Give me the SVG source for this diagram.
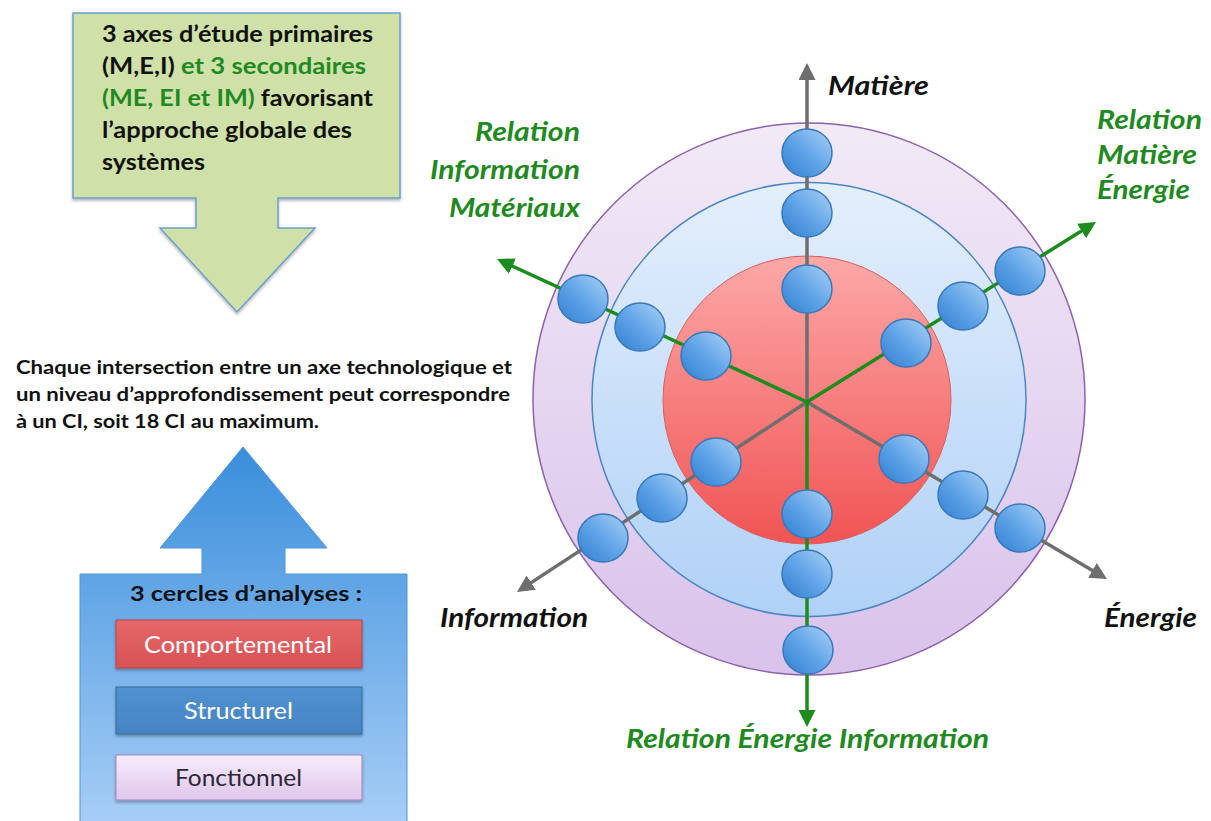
<svg xmlns="http://www.w3.org/2000/svg" width="1211" height="821" viewBox="0 0 1211 821">
<defs>
  <style>
    .t { font-family: Lato, "Liberation Sans", "DejaVu Sans", sans-serif; }
    .b { font-weight: bold; }
    .bi { font-weight: bold; font-style: italic; }
    .blk { fill: #111111; }
    .grn { fill: #1f8a1f; }
    .wht { fill: #ffffff; }
    .gray { stroke: #6e6e6e; stroke-width: 3.5; fill: none; }
    .green { stroke: #1c8c1c; stroke-width: 3.5; fill: none; }
    .node { fill: url(#gNode); stroke: #3a78b8; stroke-width: 1.5; }
  </style>
  <linearGradient id="gNode" x1="0" y1="1" x2="1" y2="0">
    <stop offset="0" stop-color="#2f7ed0"/>
    <stop offset="0.5" stop-color="#62a5e8"/>
    <stop offset="1" stop-color="#acd2f6"/>
  </linearGradient>
  <linearGradient id="gPurple" x1="0" y1="0" x2="0" y2="1">
    <stop offset="0" stop-color="#f2eaf7"/>
    <stop offset="1" stop-color="#d9c2eb"/>
  </linearGradient>
  <linearGradient id="gBlueRing" x1="0" y1="0" x2="0" y2="1">
    <stop offset="0" stop-color="#e4effc"/>
    <stop offset="1" stop-color="#b0d1f7"/>
  </linearGradient>
  <linearGradient id="gRed" x1="0" y1="0" x2="0" y2="1">
    <stop offset="0" stop-color="#fda8a8"/>
    <stop offset="1" stop-color="#f15454"/>
  </linearGradient>
  <linearGradient id="gBlueArrow" gradientUnits="userSpaceOnUse" x1="0" y1="447" x2="0" y2="821">
    <stop offset="0" stop-color="#3a8edb"/>
    <stop offset="1" stop-color="#a6cdf6"/>
  </linearGradient>
  <linearGradient id="gComp" x1="0" y1="0" x2="0" y2="1">
    <stop offset="0" stop-color="#e6686a"/>
    <stop offset="1" stop-color="#d75254"/>
  </linearGradient>
  <linearGradient id="gStruct" x1="0" y1="0" x2="0" y2="1">
    <stop offset="0" stop-color="#5192d0"/>
    <stop offset="1" stop-color="#4783c2"/>
  </linearGradient>
  <linearGradient id="gFonc" x1="0" y1="0" x2="0" y2="1">
    <stop offset="0" stop-color="#f6ecfa"/>
    <stop offset="1" stop-color="#dfc6eb"/>
  </linearGradient>
  <filter id="shadow" x="-10%" y="-10%" width="120%" height="120%">
    <feDropShadow dx="0" dy="2" stdDeviation="1.5" flood-color="#000" flood-opacity="0.3"/>
  </filter>
  <marker id="arrGray" markerUnits="userSpaceOnUse" markerWidth="17" markerHeight="17" refX="5" refY="8.5" orient="auto">
    <path d="M0,0 L17,8.5 L0,17 Z" fill="#6e6e6e"/>
  </marker>
  <marker id="arrGreen" markerUnits="userSpaceOnUse" markerWidth="17" markerHeight="17" refX="5" refY="8.5" orient="auto">
    <path d="M0,0 L17,8.5 L0,17 Z" fill="#1c8c1c"/>
  </marker>
</defs>

<rect width="1211" height="821" fill="#ffffff"/>

<!-- Left: green arrow -->
<g id="green-arrow">
  <path d="M73,13 H400 V198 H278 V228 H315 L237,312 L160,228 H196 V198 H73 Z" fill="#cfe1a8" stroke="#6b9fcf" stroke-width="1.5" filter="url(#shadow)"/>
  <text class="t b blk" font-size="22" x="102" y="42" textLength="271" lengthAdjust="spacingAndGlyphs">3 axes d’étude primaires</text>
  <text class="t b blk" font-size="22" x="102" y="74" textLength="264" lengthAdjust="spacingAndGlyphs">(M,E,I) <tspan class="grn">et 3 secondaires</tspan></text>
  <text class="t b grn" font-size="22" x="102" y="106" textLength="271" lengthAdjust="spacingAndGlyphs">(ME, EI et IM)<tspan class="blk"> favorisant</tspan></text>
  <text class="t b blk" font-size="22" x="102" y="138" textLength="250" lengthAdjust="spacingAndGlyphs">l’approche globale des</text>
  <text class="t b blk" font-size="22" x="102" y="170" textLength="103" lengthAdjust="spacingAndGlyphs">systèmes</text>
</g>

<!-- Middle text -->
<g id="intersection-text">
  <text class="t b blk" font-size="19.5" x="16" y="374" textLength="496" lengthAdjust="spacingAndGlyphs">Chaque intersection entre un axe technologique et</text>
  <text class="t b blk" font-size="19.5" x="16" y="401" textLength="494" lengthAdjust="spacingAndGlyphs">un niveau d’approfondissement peut correspondre</text>
  <text class="t b blk" font-size="19.5" x="16" y="428" textLength="303" lengthAdjust="spacingAndGlyphs">à un CI, soit 18 CI au maximum.</text>
</g>

<!-- Left: blue arrow -->
<g id="blue-arrow">
  <path d="M243,447 L327,548 H285 V574 H407 V830 H80 V574 H202 V548 H160 Z" fill="url(#gBlueArrow)" stroke="#4f95d8" stroke-width="1"/>
  <text class="t b blk" font-size="21" x="130" y="601" textLength="232" lengthAdjust="spacingAndGlyphs">3 cercles d’analyses :</text>
</g>
<g id="box-comportemental">
  <rect x="116" y="620" width="246" height="48" fill="url(#gComp)" stroke="#b94446" stroke-width="1" filter="url(#shadow)"/>
  <text class="t wht" font-size="23" x="144" y="653" textLength="188" lengthAdjust="spacingAndGlyphs">Comportemental</text>
</g>
<g id="box-structurel">
  <rect x="116" y="687" width="246" height="47" fill="url(#gStruct)" stroke="#36689c" stroke-width="1" filter="url(#shadow)"/>
  <text class="t wht" font-size="23" x="184" y="719" textLength="109" lengthAdjust="spacingAndGlyphs">Structurel</text>
</g>
<g id="box-fonctionnel">
  <rect x="116" y="755" width="246" height="45" fill="url(#gFonc)" stroke="#a283c0" stroke-width="1" filter="url(#shadow)"/>
  <text class="t" font-size="23" fill="#2b2838" x="175" y="786" textLength="127" lengthAdjust="spacingAndGlyphs">Fonctionnel</text>
</g>

<!-- Rings -->
<g id="ring-fonctionnel">
  <circle cx="809" cy="399" r="276" fill="url(#gPurple)" stroke="#8b62ab" stroke-width="1.5"/>
</g>
<g id="ring-structurel">
  <circle cx="809" cy="399.5" r="217" fill="url(#gBlueRing)" stroke="#4a86c3" stroke-width="1.5"/>
</g>
<g id="ring-comportemental">
  <circle cx="807" cy="400" r="144" fill="url(#gRed)" stroke="#d9605f" stroke-width="1"/>
</g>

<!-- Connectors (axes) -->
<g id="connectors">
  <line class="gray" x1="807" y1="402" x2="807" y2="75" marker-end="url(#arrGray)"/>
  <line class="gray" x1="807" y1="402" x2="527" y2="585.4" marker-end="url(#arrGray)"/>
  <line class="gray" x1="807" y1="402" x2="1096.7" y2="572.9" marker-end="url(#arrGray)"/>
  <line class="green" x1="807" y1="402" x2="1085.8" y2="228.3" marker-end="url(#arrGreen)"/>
  <line class="green" x1="807" y1="402" x2="507.9" y2="264" marker-end="url(#arrGreen)"/>
  <line class="green" x1="807" y1="402" x2="807" y2="715" marker-end="url(#arrGreen)"/>
</g>

<!-- Intersection nodes -->
<g id="nodes-matiere">
  <ellipse class="node" cx="807" cy="153" rx="25" ry="24"/>
  <ellipse class="node" cx="807" cy="213" rx="25" ry="24"/>
  <ellipse class="node" cx="807" cy="289" rx="25" ry="24"/>
</g>
<g id="nodes-matiere-energie">
  <ellipse class="node" cx="1020" cy="271" rx="25" ry="24"/>
  <ellipse class="node" cx="963" cy="306" rx="25" ry="24"/>
  <ellipse class="node" cx="906" cy="343" rx="25" ry="24"/>
</g>
<g id="nodes-information-materiaux">
  <ellipse class="node" cx="583" cy="299" rx="25" ry="24"/>
  <ellipse class="node" cx="640" cy="327" rx="25" ry="24"/>
  <ellipse class="node" cx="706" cy="356" rx="25" ry="24"/>
</g>
<g id="nodes-information">
  <ellipse class="node" cx="716" cy="462" rx="25" ry="24"/>
  <ellipse class="node" cx="662" cy="498" rx="25" ry="24"/>
  <ellipse class="node" cx="603" cy="538" rx="25" ry="24"/>
</g>
<g id="nodes-energie">
  <ellipse class="node" cx="904" cy="459" rx="25" ry="24"/>
  <ellipse class="node" cx="963" cy="495" rx="25" ry="24"/>
  <ellipse class="node" cx="1020" cy="528" rx="25" ry="24"/>
</g>
<g id="nodes-energie-information">
  <ellipse class="node" cx="807" cy="514" rx="25" ry="24"/>
  <ellipse class="node" cx="807" cy="574" rx="25" ry="24"/>
  <ellipse class="node" cx="808" cy="650" rx="25" ry="24"/>
</g>

<!-- Axis labels -->
<g id="label-matiere">
  <text class="t bi blk" font-size="27" x="828" y="95" textLength="101" lengthAdjust="spacingAndGlyphs">Matière</text>
</g>
<g id="label-information">
  <text class="t bi blk" font-size="27" x="440" y="627" textLength="148" lengthAdjust="spacingAndGlyphs">Information</text>
</g>
<g id="label-energie">
  <text class="t bi blk" font-size="27" x="1104" y="627" textLength="93" lengthAdjust="spacingAndGlyphs">Énergie</text>
</g>
<g id="label-relation-im">
  <text class="t bi grn" font-size="27" x="475" y="141" textLength="105" lengthAdjust="spacingAndGlyphs">Relation</text>
  <text class="t bi grn" font-size="27" x="430" y="179" textLength="150" lengthAdjust="spacingAndGlyphs">Information</text>
  <text class="t bi grn" font-size="27" x="449" y="217" textLength="131" lengthAdjust="spacingAndGlyphs">Matériaux</text>
</g>
<g id="label-relation-me">
  <text class="t bi grn" font-size="27" x="1097" y="129" textLength="105" lengthAdjust="spacingAndGlyphs">Relation</text>
  <text class="t bi grn" font-size="27" x="1097" y="164" textLength="100" lengthAdjust="spacingAndGlyphs">Matière</text>
  <text class="t bi grn" font-size="27" x="1097" y="199" textLength="93" lengthAdjust="spacingAndGlyphs">Énergie</text>
</g>
<g id="label-relation-ei">
  <text class="t bi grn" font-size="27" x="626" y="748" textLength="363" lengthAdjust="spacingAndGlyphs">Relation Énergie Information</text>
</g>
</svg>
